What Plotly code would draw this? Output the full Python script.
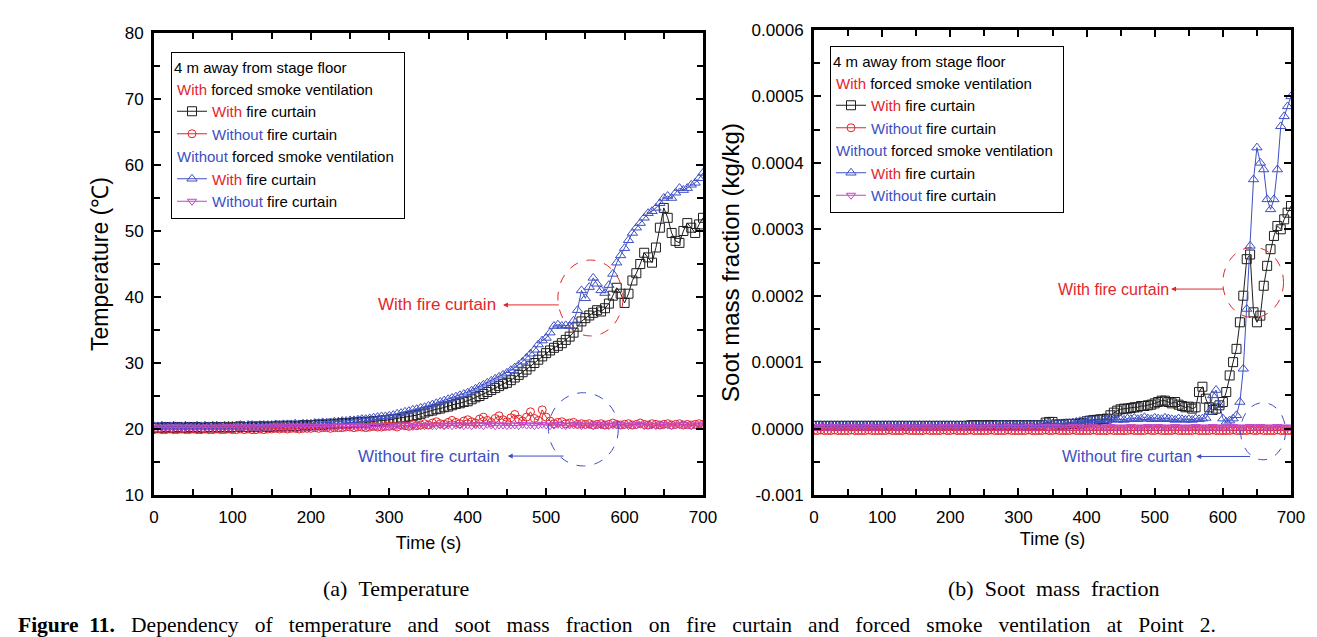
import plotly.graph_objects as go

# ---------------- data ----------------
TIME = list(range(0, 701, 5))  # s

# Temperature (deg C)
T_VENT_CURTAIN = [
    20.2, 20.2, 20.2, 20.3, 20.2, 20.2, 20.3, 20.2, 20.2, 20.3,
    20.2, 20.3, 20.2, 20.2, 20.3, 20.3, 20.2, 20.3, 20.3, 20.2,
    20.3, 20.3, 20.4, 20.3, 20.3, 20.4, 20.3, 20.4, 20.4, 20.3,
    20.4, 20.4, 20.5, 20.4, 20.5, 20.5, 20.4, 20.5, 20.6, 20.5,
    20.6, 20.6, 20.7, 20.6, 20.7, 20.8, 20.7, 20.8, 20.9, 20.8,
    20.9, 21.0, 21.0, 21.1, 21.0, 21.1, 21.2, 21.2, 21.3, 21.3,
    21.4, 21.5, 21.5, 21.6, 21.8, 21.9, 22.0, 22.1, 22.3, 22.5,
    22.7, 22.8, 23.0, 23.1, 23.3, 23.4, 23.6, 23.8, 23.9, 24.1,
    24.2, 24.5, 24.8, 25.0, 25.3, 25.6, 25.9, 26.2, 26.5, 26.8,
    27.0, 27.4, 27.8, 28.2, 28.6, 29.0, 29.5, 30.0, 30.5, 31.0,
    31.5, 31.9, 32.3, 32.6, 33.0, 33.5, 34.0, 34.6, 35.5, 36.3,
    36.8, 37.2, 37.6, 38.0, 37.8, 38.3, 39.0, 40.2, 41.4, 40.5,
    39.1, 40.5, 42.5, 43.6, 45.0, 46.7, 46.0, 45.2, 47.5, 50.5,
    53.5, 52.0, 49.7, 48.5, 48.2, 50.0, 51.2, 50.5, 49.7, 51.0,
    52.0]
T_VENT_NOCURTAIN = [
    19.9, 20.0, 19.9, 19.9, 20.0, 19.9, 19.9, 20.0, 19.9, 19.9,
    20.0, 19.9, 19.9, 20.0, 19.9, 19.9, 20.0, 19.9, 19.9, 20.0,
    19.9, 19.9, 20.0, 19.9, 20.0, 19.9, 19.9, 20.0, 19.9, 20.0,
    20.0, 20.1, 20.0, 20.1, 20.0, 20.1, 20.1, 20.0, 20.1, 20.1,
    20.1, 20.2, 20.1, 20.2, 20.2, 20.1, 20.2, 20.2, 20.2, 20.3,
    20.3, 20.2, 20.3, 20.3, 20.2, 20.3, 20.4, 20.3, 20.3, 20.4,
    20.4, 20.5, 20.3, 20.6, 20.5, 20.4, 20.7, 20.5, 20.6, 20.8,
    20.6, 20.9, 21.1, 20.8, 20.7, 21.0, 21.3, 21.0, 20.8, 21.2,
    21.4, 21.1, 20.9, 21.5, 21.8, 21.3, 21.0, 21.6, 22.0, 21.4,
    21.1, 21.7, 22.2, 21.5, 21.2, 21.8, 22.6, 21.6, 21.3, 22.9,
    21.8, 21.2, 20.8, 21.0, 21.1, 20.8, 20.9, 21.0, 20.7, 20.8,
    20.7, 20.8, 20.6, 20.7, 20.8, 20.6, 20.7, 20.9, 20.7, 20.6,
    20.7, 20.8, 20.6, 20.7, 20.9, 20.7, 20.6, 20.8, 20.7, 20.6,
    20.7, 20.8, 20.6, 20.7, 20.8, 20.6, 20.7, 20.6, 20.7, 20.8,
    20.7]
T_NOVENT_CURTAIN = [
    20.4, 20.4, 20.5, 20.4, 20.4, 20.5, 20.4, 20.4, 20.5, 20.4,
    20.4, 20.5, 20.4, 20.5, 20.4, 20.5, 20.5, 20.4, 20.5, 20.5,
    20.5, 20.5, 20.6, 20.5, 20.6, 20.6, 20.5, 20.6, 20.6, 20.6,
    20.6, 20.7, 20.6, 20.7, 20.7, 20.7, 20.8, 20.7, 20.8, 20.8,
    20.8, 20.9, 20.9, 21.0, 20.9, 21.0, 21.1, 21.1, 21.2, 21.2,
    21.3, 21.3, 21.4, 21.5, 21.5, 21.6, 21.7, 21.8, 21.9, 21.9,
    22.0, 22.1, 22.3, 22.4, 22.6, 22.7, 22.9, 23.0, 23.2, 23.3,
    23.5, 23.7, 23.9, 24.1, 24.3, 24.5, 24.7, 24.9, 25.1, 25.3,
    25.5, 25.8, 26.1, 26.4, 26.7, 27.0, 27.3, 27.6, 27.9, 28.2,
    28.5, 28.9, 29.3, 29.7, 30.2, 30.8, 31.4, 32.0, 32.8, 33.4,
    33.8, 34.6, 35.6, 35.8, 35.6, 35.7, 35.6, 36.4, 38.0, 41.0,
    39.8, 41.5, 42.9, 42.0, 41.0, 40.6, 41.8, 43.5, 45.2, 46.3,
    47.4, 48.6, 49.7, 50.5, 51.2, 52.0, 52.7, 53.0, 53.5, 54.2,
    55.0, 55.3, 55.0, 55.8, 56.5, 56.2, 56.5, 57.0, 57.3, 58.0,
    58.8]
T_NOVENT_NOCURTAIN = [
    20.2, 20.3, 20.2, 20.2, 20.3, 20.2, 20.3, 20.2, 20.2, 20.3,
    20.2, 20.2, 20.3, 20.2, 20.3, 20.2, 20.2, 20.3, 20.2, 20.3,
    20.3, 20.2, 20.3, 20.3, 20.2, 20.3, 20.3, 20.2, 20.3, 20.3,
    20.3, 20.3, 20.4, 20.3, 20.3, 20.4, 20.3, 20.4, 20.3, 20.4,
    20.4, 20.3, 20.4, 20.4, 20.3, 20.4, 20.4, 20.5, 20.4, 20.4,
    20.4, 20.5, 20.4, 20.5, 20.4, 20.4, 20.5, 20.4, 20.5, 20.5,
    20.5, 20.4, 20.5, 20.5, 20.6, 20.5, 20.4, 20.6, 20.5, 20.5,
    20.6, 20.5, 20.5, 20.6, 20.5, 20.6, 20.5, 20.6, 20.6, 20.5,
    20.6, 20.5, 20.6, 20.6, 20.5, 20.7, 20.6, 20.5, 20.6, 20.6,
    20.5, 20.6, 20.6, 20.5, 20.7, 20.6, 20.6, 20.5, 20.6, 20.7,
    20.6, 20.5, 20.6, 20.7, 20.6, 20.5, 20.6, 20.6, 20.7, 20.5,
    20.6, 20.6, 20.5, 20.7, 20.6, 20.6, 20.5, 20.6, 20.7, 20.6,
    20.6, 20.5, 20.6, 20.6, 20.7, 20.5, 20.6, 20.6, 20.5, 20.6,
    20.7, 20.6, 20.5, 20.6, 20.6, 20.7, 20.6, 20.5, 20.6, 20.6,
    20.6]

# Soot mass fraction, in units of 1e-6 kg/kg
SOOT_UNIT = 1e-6
S_VENT_CURTAIN = [
    4, 4, 4, 4, 4, 4, 4, 4, 4, 4,
    4, 4, 4, 4, 4, 4, 4, 4, 4, 4,
    4, 4, 4, 4, 4, 4, 4, 4, 4, 4,
    4, 4, 4, 4, 4, 4, 4, 4, 4, 4,
    4, 4, 4, 4, 4, 4, 5, 5, 5, 5,
    5, 5, 5, 5, 5, 5, 5, 5, 5, 5,
    5, 5, 5, 5, 5, 5, 5, 5, 9, 10,
    10, 6, 6, 6, 7, 7, 7, 7, 8, 8,
    11, 12, 13, 13, 14, 14, 15, 20, 24, 27,
    29, 30, 30, 31, 32, 32, 34, 34, 35, 36,
    38, 40, 42, 42, 40, 38, 40, 36, 34, 32,
    33, 30, 32, 55, 63, 45, 32, 28, 30, 35,
    40, 55, 80, 100, 120, 160, 200, 255, 262, 175,
    160, 170, 215, 245, 270, 290, 305, 300, 315, 325,
    335]
S_VENT_NOCURTAIN = [
    -3, -3, -2, -3, -3, -3, -2, -3, -3, -3,
    -3, -2, -3, -3, -3, -3, -2, -3, -3, -3,
    -3, -3, -2, -3, -3, -3, -3, -2, -3, -3,
    -3, -3, -3, -2, -3, -3, -3, -3, -2, -3,
    -3, -2, -3, -3, -3, -3, -2, -3, -3, -3,
    -3, -3, -2, -3, -3, -3, -3, -2, -3, -3,
    -3, -3, -3, -2, -3, -3, -3, -3, -2, -3,
    -3, -2, -3, -3, -3, -3, -2, -3, -3, -3,
    -3, -3, -2, -3, -3, -3, -3, -2, -3, -3,
    -3, -3, -3, -2, -3, -3, -3, -3, -2, -3,
    -3, -2, -3, -3, -3, -3, -2, -3, -3, -3,
    -3, -3, -2, -3, -3, -3, -3, -2, -3, -3,
    -3, -3, -3, -2, -3, -3, -3, -3, -2, -3,
    -3, -2, -3, -3, -3, -3, -2, -3, -3, -3,
    -3]
S_NOVENT_CURTAIN = [
    5, 5, 5, 5, 5, 5, 5, 5, 5, 5,
    5, 5, 5, 5, 5, 5, 5, 5, 5, 5,
    5, 5, 5, 5, 5, 5, 5, 5, 5, 5,
    5, 5, 5, 5, 5, 5, 5, 5, 5, 5,
    5, 5, 5, 5, 5, 5, 5, 5, 5, 5,
    5, 5, 5, 5, 6, 6, 6, 6, 6, 6,
    6, 6, 6, 6, 6, 6, 6, 7, 7, 7,
    7, 7, 7, 7, 8, 8, 9, 10, 11, 12,
    12, 13, 12, 13, 14, 12, 13, 15, 14, 13,
    14, 13, 15, 14, 16, 14, 15, 17, 15, 14,
    16, 15, 14, 16, 15, 14, 13, 15, 14, 13,
    14, 13, 15, 14, 15, 16, 25, 50, 58, 35,
    15, 10, 12, 15, 20, 40, 90, 180, 275, 375,
    423, 400, 390, 345, 330, 345, 390, 455, 470, 485,
    500]
S_NOVENT_NOCURTAIN = [
    2, 2, 3, 2, 2, 2, 3, 2, 2, 2,
    2, 3, 2, 2, 2, 2, 3, 2, 2, 2,
    2, 2, 3, 2, 2, 2, 2, 3, 2, 2,
    2, 2, 2, 3, 2, 2, 2, 2, 3, 2,
    2, 3, 2, 2, 2, 2, 3, 2, 2, 2,
    2, 2, 3, 2, 2, 2, 2, 3, 2, 2,
    2, 2, 2, 3, 2, 2, 2, 2, 3, 2,
    2, 3, 2, 2, 2, 2, 3, 2, 2, 2,
    2, 2, 3, 2, 2, 2, 2, 3, 2, 2,
    2, 2, 2, 3, 2, 2, 2, 2, 3, 2,
    2, 3, 2, 2, 2, 2, 3, 2, 2, 2,
    2, 2, 3, 2, 2, 2, 2, 3, 2, 2,
    2, 2, 2, 3, 2, 2, 2, 2, 3, 2,
    2, 3, 2, 2, 2, 2, 3, 2, 2, 2,
    2]

X_TICKS = [0, 100, 200, 300, 400, 500, 600, 700]
T_TICKS = [10, 20, 30, 40, 50, 60, 70, 80]
S_TICKVALS = [-0.0001, 0.0, 0.0001, 0.0002, 0.0003, 0.0004, 0.0005, 0.0006]
S_TICKTEXT = ["-0.001", "0.0000", "0.0001", "0.0002", "0.0003", "0.0004", "0.0005", "0.0006"]

# ---------------- style ----------------
W, H = 1317, 637
RED = "#e3262b"
BLUE = "#3d4fc4"
MAG = "#c146c8"
BLK = "#1e1e1e"
SANS = "Liberation Sans, Arial, sans-serif"
SERIF = "Liberation Serif, Times New Roman, serif"

def with_(s):
    return f"<span style='color:{RED}'>With</span>{s}"

def without_(s):
    return f"<span style='color:{BLUE}'>Without</span>{s}"

G1 = with_(" forced smoke ventilation")
G2 = without_(" forced smoke ventilation")
LEG_FONT = 15

series = [
    # name, group, group title, color, symbol, size, T data, S data
    (with_(" fire curtain"), "g1", G1, BLK, "square-open", 9, T_VENT_CURTAIN, S_VENT_CURTAIN),
    (without_(" fire curtain"), "g1", G1, RED, "circle-open", 8, T_VENT_NOCURTAIN, S_VENT_NOCURTAIN),
    (with_(" fire curtain"), "g2", G2, BLUE, "triangle-up-open", 9, T_NOVENT_CURTAIN, S_NOVENT_CURTAIN),
    (without_(" fire curtain"), "g2", G2, MAG, "triangle-down-open", 8, T_NOVENT_NOCURTAIN, S_NOVENT_NOCURTAIN),
]

fig = go.Figure()
for name, grp, gtitle, col, sym, msize, tdata, sdata in series:
    common = dict(
        mode="lines+markers",
        line=dict(color=col, width=1),
        marker=dict(symbol=sym, size=msize, color=col, line=dict(width=1, color=col)),
        name=name,
        legendgroup=grp,
        legendgrouptitle=dict(text=gtitle, font=dict(family=SANS, size=LEG_FONT, color="black")),
    )
    fig.add_trace(go.Scatter(x=TIME, y=tdata, xaxis="x", yaxis="y", legend="legend", **common))
    fig.add_trace(go.Scatter(x=TIME, y=[v * SOOT_UNIT for v in sdata], xaxis="x2", yaxis="y2",
                             legend="legend2", **common))

def px_x(p):
    return p / W

def px_y(p):
    return 1 - p / H

axis_common = dict(
    showline=True, linecolor="black", linewidth=3, mirror="allticks",
    ticks="inside", ticklen=7, tickwidth=2, tickcolor="black",
    showgrid=False, zeroline=False, automargin=False,
    tickfont=dict(family=SANS, size=17, color="black"),
)
minor_common = dict(ticks="inside", ticklen=6, tickwidth=2, tickcolor="black")

fig.update_layout(
    width=W, height=H, template="none",
    paper_bgcolor="white", plot_bgcolor="white",
    margin=dict(l=0, r=0, t=0, b=0),
    showlegend=True,
    xaxis=dict(domain=[px_x(146), px_x(695)], range=[0, 700], tickvals=X_TICKS,
               minor=dict(dtick=50, **minor_common), ticklabelstandoff=5,
               title=dict(text="Time (s)", font=dict(family=SANS, size=18, color="black"), standoff=10),
               anchor="y", **axis_common),
    yaxis=dict(domain=[px_y(487), px_y(25)], range=[10, 80], tickvals=T_TICKS,
               minor=dict(dtick=5, **minor_common), ticklabelstandoff=4,
               title=dict(text="Temperature (℃)", font=dict(family=SANS, size=23, color="black"), standoff=10),
               anchor="x", **axis_common),
    xaxis2=dict(domain=[px_x(806), px_x(1283)], range=[0, 700], tickvals=X_TICKS,
                minor=dict(dtick=50, **minor_common), ticklabelstandoff=5,
                title=dict(text="Time (s)", font=dict(family=SANS, size=18, color="black"), standoff=6),
                anchor="y2", **axis_common),
    yaxis2=dict(domain=[px_y(487), px_y(22)], range=[-0.0001, 0.0006], tickvals=S_TICKVALS,
                ticktext=S_TICKTEXT, ticklabelstandoff=4,
                minor=dict(dtick=0.00005, **minor_common),
                title=dict(text="Soot mass fraction (kg/kg)", font=dict(family=SANS, size=24, color="black"), standoff=6),
                anchor="x2", **axis_common),
    legend=dict(x=px_x(163), y=px_y(44), xanchor="left", yanchor="top",
                bgcolor="white", bordercolor="black", borderwidth=1,
                font=dict(family=SANS, size=LEG_FONT, color="black"),
                title=dict(text="4 m away from stage floor", font=dict(family=SANS, size=LEG_FONT, color="black")),
                tracegroupgap=0, itemwidth=30, traceorder="grouped"),
    legend2=dict(x=px_x(822), y=px_y(38), xanchor="left", yanchor="top",
                 bgcolor="white", bordercolor="black", borderwidth=1,
                 font=dict(family=SANS, size=LEG_FONT, color="black"),
                 title=dict(text="4 m away from stage floor", font=dict(family=SANS, size=LEG_FONT, color="black")),
                 tracegroupgap=0, itemwidth=30, traceorder="grouped"),
)

# dashed circles
circles = [
    ("x", "y", 515, 598, 34.1, 45.6, RED),
    ("x", "y", 503, 592, 14.4, 25.5, BLUE),
    ("x2", "y2", 600, 689, 0.000167, 0.000273, RED),
    ("x2", "y2", 626, 692, -0.000047, 0.000039, BLUE),
]
for xr, yr, x0, x1, y0, y1, c in circles:
    fig.add_shape(type="circle", xref=xr, yref=yr, x0=x0, x1=x1, y0=y0, y1=y1,
                  line=dict(color=c, width=1, dash="dash"))

# arrows and labels: axis refs, text x, y, arrow head x, arrow tail x, text, colour, font size
notes = [
    ("x", "y", 361, 38.8, 445, 518, "With fire curtain", RED, 17),
    ("x", "y", 350, 15.9, 451, 524, "Without fire curtain", BLUE, 17),
    ("x2", "y2", 439, 0.00021, 524, 603, "With fire curtain", RED, 16),
    ("x2", "y2", 460, -0.000042, 561, 642, "Without fire curtan", BLUE, 16),
]
for xr, yr, tx, ty, head, tail, txt, c, fs in notes:
    fig.add_annotation(xref=xr, yref=yr, x=tx, y=ty, text=txt, showarrow=False,
                       xanchor="center", yanchor="middle",
                       font=dict(family=SANS, size=fs, color=c))
    fig.add_annotation(xref=xr, yref=yr, x=head, y=ty, ax=tail, ay=ty, axref=xr, ayref=yr,
                       text="", showarrow=True, arrowhead=2, arrowsize=1, arrowwidth=1, arrowcolor=c)

# captions
GAP = " &nbsp;"
GAP2 = " &nbsp;&nbsp;"
fig.add_annotation(xref="paper", yref="paper", x=px_x(388), y=px_y(580), text="(a)" + GAP + "Temperature",
                   showarrow=False, xanchor="center", yanchor="middle",
                   font=dict(family=SERIF, size=22, color="black"))
fig.add_annotation(xref="paper", yref="paper", x=px_x(1045), y=px_y(580),
                   text="(b)" + GAP + "Soot" + GAP + "mass" + GAP + "fraction",
                   showarrow=False, xanchor="center", yanchor="middle",
                   font=dict(family=SERIF, size=22, color="black"))
CAPTION_WORDS = ["Dependency", "of", "temperature", "and", "soot", "mass", "fraction", "on", "fire",
                 "curtain", "and", "forced", "smoke", "ventilation", "at", "Point", "2."]
fig.add_annotation(xref="paper", yref="paper", x=px_x(8), y=px_y(617), xanchor="left", yanchor="middle",
                   text="<b>Figure" + GAP + "11.</b>" + GAP2 + GAP2.join(CAPTION_WORDS),
                   showarrow=False, font=dict(family=SERIF, size=21.5, color="black"))

fig.write_html("out.html")
